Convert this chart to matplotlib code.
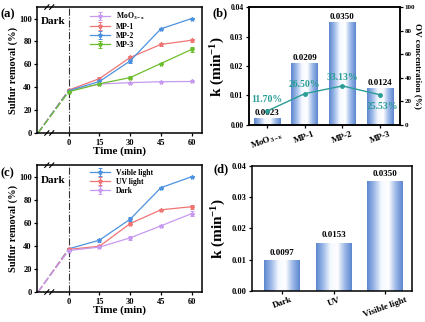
import numpy as np
import matplotlib
matplotlib.use("Agg")
import matplotlib.pyplot as plt
from matplotlib.colors import LinearSegmentedColormap
from matplotlib.transforms import blended_transform_factory

plt.rcParams['font.family'] = ['Liberation Serif', 'DejaVu Serif']
plt.rcParams['font.weight'] = 'bold'
plt.rcParams['axes.labelweight'] = 'bold'
plt.rcParams['mathtext.fontset'] = 'custom'
plt.rcParams['mathtext.rm'] = 'Liberation Serif:bold'
plt.rcParams['mathtext.it'] = 'Liberation Serif:bold'
plt.rcParams['mathtext.bf'] = 'Liberation Serif:bold'

# ---- data ----
time = [0, 15, 30, 45, 60]
t_start = -15          # broken-axis origin (dark adsorption start)

# (a) sulfur removal, catalysts
a_names = ["MoO$_{3-x}$", "MP-1", "MP-2", "MP-3"]
a_moo3 = [37.0, 42.8, 44.0, 44.8, 45.0]
a_mp1 = [37.5, 47.5, 66.0, 77.4, 81.0]
a_mp2 = [37.0, 45.0, 63.0, 91.0, 100.0]
a_mp3 = [36.0, 43.0, 48.4, 60.7, 73.0]
a_err_moo3 = [0.8, 0.6, 0.8, 0.6, 0.6]
a_err_mp1 = [0.8, 1.2, 1.5, 1.5, 1.5]
a_err_mp2 = [0.8, 1.0, 1.5, 1.0, 0.6]
a_err_mp3 = [0.8, 0.8, 1.0, 0.8, 2.0]

# (b) rate constants and OV concentration
b_labels = ["MoO$_{3-x}$", "MP-1", "MP-2", "MP-3"]
b_k = [0.0023, 0.0209, 0.0350, 0.0124]
b_ov = [11.70, 26.50, 33.13, 25.53]

# (c) sulfur removal, light conditions
c_names = ["Vsible light", "UV light", "Dark"]
c_vis = [37.5, 45.0, 63.2, 90.5, 100.0]
c_uv = [37.0, 39.7, 59.4, 71.3, 74.0]
c_dark = [36.0, 39.0, 47.0, 57.4, 68.0]
c_err_vis = [0.8, 1.2, 1.8, 0.8, 0.6]
c_err_uv = [0.8, 1.0, 1.2, 0.8, 1.8]
c_err_dark = [0.8, 1.2, 2.0, 1.0, 2.0]

# (d) rate constants
d_labels = ["Dark", "UV", "Visible light"]
d_k = [0.0097, 0.0153, 0.0350]

violet = "#C79AEF"
red = "#F07474"
blue = "#4C92E0"
green = "#6DBE2C"
teal = "#2A9D96"

bar_cmap = LinearSegmentedColormap.from_list(
    "barg", ["#5C86CF", "#9DB9E8", "#F4F8FF", "#FFFFFF", "#9DB9E8", "#5C86CF"])


def style_axes(ax):
    for s in ax.spines.values():
        s.set_linewidth(1.1)
    ax.tick_params(labelsize=6, width=0.9, length=2.5, pad=1.5)


def gradient_bars(ax, values, width=0.7):
    grad = np.linspace(0, 1, 256).reshape(1, -1)
    bars = ax.bar(range(len(values)), values, width=width, color="none",
                  edgecolor="none", zorder=2)
    for b in bars:
        x0, y0 = b.get_x(), b.get_y()
        im = ax.imshow(grad, cmap=bar_cmap, aspect="auto", zorder=2,
                       extent=[x0, x0 + b.get_width(), y0, y0 + b.get_height()])
        im.set_clip_path(b)
    return bars


def break_marks(ax, x):
    tr = blended_transform_factory(ax.transData, ax.transAxes)
    for y in (0, 1):
        for dx in (-1.2, 1.2):
            ax.plot([x + dx - 1.0, x + dx + 1.0], [y - 0.018, y + 0.018],
                    color="k", lw=0.8, transform=tr, clip_on=False, zorder=5)


def removal_panel(ax, series, errs, colors, names, letter):
    for y, e, c, n in zip(series, errs, colors, names):
        ax.plot([t_start, time[0]], [0, y[0]], color=c, lw=0.9, ls=(0, (6, 2)))
        ax.errorbar(time, y, yerr=e, color=c, lw=0.9, marker="*", ms=3,
                    capsize=1.5, elinewidth=0.7, capthick=0.7, label=n)
    ax.axvline(0, color="#333333", lw=0.8, ls="-.")
    ax.set_xlim(t_start - 0.3, 65)
    ax.set_ylim(0, 110)
    ax.set_xticks(time)
    ax.set_yticks([0, 20, 40, 60, 80, 100])
    ax.set_xlabel("Time (min)", fontsize=8, labelpad=0)
    ax.set_ylabel("Sulfur removal (%)", fontsize=7.5, labelpad=1)
    ax.text(-13.5, 101, "Dark", fontsize=8, fontweight="bold", va="top")
    ax.legend(loc="upper left", bbox_to_anchor=(0.29, 1.01), frameon=False,
              fontsize=5.5, handlelength=2.6, labelspacing=0.15,
              borderaxespad=0.2)
    break_marks(ax, -9.5)
    style_axes(ax)
    ax.text(-0.225, 0.94, letter, transform=ax.transAxes, fontsize=9,
            fontweight="bold", va="center")


fig = plt.figure(figsize=(4.25, 3.22), dpi=100)

# (a)
ax_a = fig.add_axes([0.088, 0.587, 0.387, 0.391])
removal_panel(ax_a, [a_moo3, a_mp1, a_mp2, a_mp3],
              [a_err_moo3, a_err_mp1, a_err_mp2, a_err_mp3],
              [violet, red, blue, green], a_names, "(a)")

# (b)
ax_b = fig.add_axes([0.586, 0.612, 0.355, 0.366])
gradient_bars(ax_b, b_k)
for i, v in enumerate(b_k):
    ax_b.text(i, v + 0.0004, f"{v:.4f}", ha="center", va="bottom",
              fontsize=6.5, fontweight="bold", zorder=4)
ax_b.set_xlim(-0.47, 3.52)
ax_b.set_ylim(0, 0.04)
ax_b.set_yticks([0, 0.01, 0.02, 0.03, 0.04])
ax_b.set_xticks(range(len(b_labels)))
ax_b.set_xticklabels(b_labels, rotation=20, fontsize=6.5)
ax_b.set_ylabel("k (min$^{-1}$)", fontsize=11, labelpad=2)
style_axes(ax_b)
ax_b.tick_params(axis="both", labelsize=5.5)
ax_b.tick_params(axis="x", labelsize=6.5, pad=1)
ax_b2 = ax_b.twinx()
ax_b2.plot(range(len(b_ov)), b_ov, color=teal, lw=1.0, marker="o", ms=2.5)
ax_b2.set_ylim(0, 100)
ax_b2.set_yticks([0, 20, 40, 60, 80, 100])
ax_b2.set_ylabel("OV concentration (%)", fontsize=6.5, rotation=270,
                 labelpad=5)
style_axes(ax_b2)
ax_b2.tick_params(labelsize=5, pad=1)
ov_offsets = [(0.0, 10), (-0.02, 8), (0.0, 7.5), (0.05, -10)]
for i, (v, (dx, dy)) in enumerate(zip(b_ov, ov_offsets)):
    ax_b2.text(i + dx, v + dy, f"{v:.2f}%", ha="center", va="center",
               color=teal, fontsize=7, fontweight="bold")
ax_b.text(-0.24, 0.95, "(b)", transform=ax_b.transAxes, fontsize=9,
          fontweight="bold", va="center")

# (c)
ax_c = fig.add_axes([0.088, 0.093, 0.387, 0.394])
removal_panel(ax_c, [c_vis, c_uv, c_dark],
              [c_err_vis, c_err_uv, c_err_dark],
              [blue, red, violet], c_names, "(c)")

# (d)
ax_d = fig.add_axes([0.592, 0.097, 0.377, 0.388])
gradient_bars(ax_d, d_k)
for i, v in enumerate(d_k):
    ax_d.text(i, v + 0.0012, f"{v:.4f}", ha="center", va="bottom",
              fontsize=6.5, fontweight="bold", zorder=4)
ax_d.set_xlim(-0.6, 2.52)
ax_d.set_ylim(0, 0.04)
ax_d.set_yticks([0, 0.01, 0.02, 0.03, 0.04])
ax_d.set_xticks(range(len(d_labels)))
ax_d.set_xticklabels(d_labels, rotation=20, fontsize=6.5)
ax_d.set_ylabel("k (min$^{-1}$)", fontsize=11, labelpad=2)
style_axes(ax_d)
ax_d.tick_params(axis="x", labelsize=6.5, pad=1)
ax_d.text(-0.24, 0.97, "(d)", transform=ax_d.transAxes, fontsize=9,
          fontweight="bold", va="center")

fig.savefig("out.png", dpi=100)
